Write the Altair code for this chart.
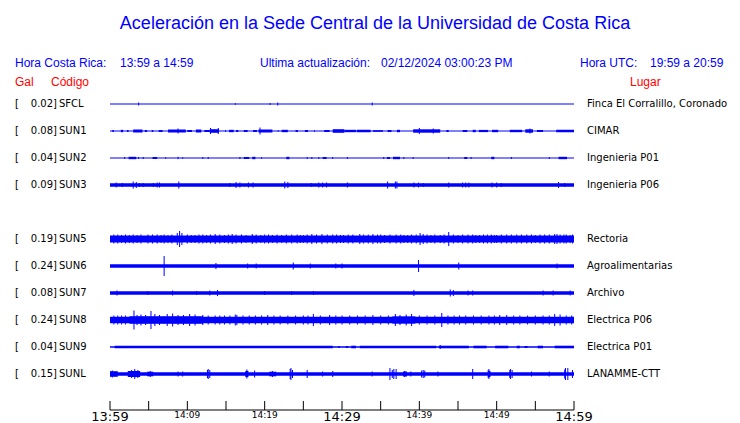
import altair as alt
import pandas as pd

# ---------------- data ----------------
codes = ["SFCL", "SUN1", "SUN2", "SUN3", "SUN5", "SUN6", "SUN7", "SUN8", "SUN9", "SUNL"]
rows = [0, 1, 2, 3, 5, 6, 7, 8, 9, 10]          # trace slot (slot 4 is empty)
gal = [0.02, 0.08, 0.04, 0.09, 0.19, 0.24, 0.08, 0.24, 0.04, 0.15]
places = ["Finca El Corralillo, Coronado", "CIMAR", "Ingenieria P01", "Ingenieria P06",
          "Rectoria", "Agroalimentarias", "Archivo", "Electrica P06", "Electrica P01",
          "LANAMME-CTT"]
# continuous background noise level (half amplitude, trace units) per station
noise = [0, 0, 0, 1.7, 3.5, 1.7, 1.7, 3.2, 0.5, 1.8]

# bursts: (start minute, end minute, half amplitude)
bursts = {
    "SUN1": [(0.3, 0.5, 1.0), (1.4, 1.7, 1.2), (2.2, 2.4, 1.0), (3.0, 4.2, 1.5), (4.5, 4.8, 1.0),
             (5.4, 5.6, 1.0), (6.3, 6.8, 1.0), (7.5, 9.8, 1.5), (10.0, 10.6, 1.0), (11.1, 11.8, 1.5),
             (12.2, 12.9, 1.0), (12.9, 14.1, 1.8), (14.9, 15.0, 1.0), (15.4, 16.0, 1.2), (16.3, 16.6, 1.0),
             (17.3, 17.8, 1.0), (18.5, 19.0, 1.0), (19.2, 21.0, 1.5), (21.7, 21.8, 1.0), (22.2, 23.0, 1.2),
             (24.0, 24.3, 1.0), (25.2, 25.6, 1.0), (26.4, 26.5, 1.0), (27.7, 28.4, 1.0), (28.8, 30.3, 1.8),
             (30.3, 31.8, 1.2), (31.9, 33.7, 1.2), (34.0, 35.3, 0.8), (35.9, 36.4, 1.0), (37.1, 37.5, 1.2),
             (39.2, 42.7, 1.7), (43.5, 43.8, 1.0), (45.6, 46.2, 1.0), (46.9, 47.3, 1.2), (47.7, 48.9, 1.1),
             (49.4, 50.2, 1.2), (51.7, 53.3, 1.2), (53.7, 54.7, 1.7), (55.2, 56.0, 1.0), (57.7, 60, 1.3)],
    "SUN2": [(2.4, 3.4, 1.2), (5.5, 6.1, 1.0), (17.3, 18.0, 1.0), (18.4, 18.8, 1.2), (22.8, 23.2, 1.2),
             (27.5, 28.0, 1.0), (35.8, 36.2, 1.0), (36.6, 37.5, 1.2), (45.8, 46.2, 1.0), (49.3, 49.7, 1.2),
             (58.0, 59.1, 1.2)],
    "SUN8": [(2.5, 12.0, 3.8), (36.5, 39.5, 3.6)],
    "SUN9": [(0.6, 28.8, 1.3), (29.5, 29.7, 1), (30.5, 30.8, 1), (31.2, 31.8, 1.3), (32.3, 42.2, 1.3),
             (42.5, 46.4, 1.3), (47.0, 48.7, 1.3), (49.8, 51.5, 1.3), (52.6, 53.0, 1.3), (53.6, 54.0, 1),
             (55.3, 56.0, 1.3), (57.5, 60, 1.3)],
    "SUNL": [(0, 1, 2.8), (2.3, 3.9, 3.0), (4.8, 5.6, 2.3), (17.5, 17.9, 3.0),
             (20.6, 21.5, 2.3), (37.9, 38.4, 2.5), (48.9, 49.2, 3.0)],
}

# spikes: (minute, half amplitude)
spikes = {
    "SFCL": [(3.7, 1.5), (16.2, 0.8), (20.7, 1.0), (21.7, 1.5), (33.9, 1.5)],
    "SUN1": [(8.8, 2.5), (13.0, 3), (14.0, 3), (19.4, 3.5), (40.0, 3), (41.8, 2.5), (54.3, 2.5)],
    "SUN2": [(1.9, 1), (3.7, 1), (4.3, 1), (7.2, 0.8), (8.8, 1.2), (9.4, 0.8), (12.0, 1), (12.7, 1),
             (16.8, 1), (19.6, 0.8), (25.5, 1), (26.1, 1), (27.0, 1), (28.8, 1), (30.7, 1), (35.4, 1),
             (38.0, 1), (39.2, 1), (43.8, 1), (46.7, 1), (51.9, 1), (56.8, 1)],
    "SUN3": [(0.8, 2.5), (1.6, 2), (3.0, 3.5), (3.4, 3), (3.8, 2), (4.3, 2), (5.6, 2), (6.1, 2.5),
             (6.4, 2.5), (8.9, 3.5), (15.5, 2), (16.3, 3), (16.8, 2.5), (17.9, 2.5), (18.5, 2.5),
             (22.6, 3.5), (23.0, 3), (26.0, 2), (27.0, 2.5), (27.5, 2.5), (28.0, 2.5), (30.7, 2.5),
             (35.9, 3.5), (36.9, 3.5), (37.1, 3.5), (39.3, 2.5), (39.9, 2.5), (40.5, 2), (43.8, 2.5),
             (45.6, 2.5), (46.0, 2.5), (46.4, 2.5), (49.4, 2.5), (50.0, 2.5), (50.6, 2), (58.0, 3),
             (58.8, 2)],
    "SUN5": [(0.5, 4.5), (1.0, 4.5), (1.5, 4), (2.0, 4.5), (2.5, 4), (3.0, 4.5), (3.5, 4), (4.0, 4.5),
             (4.9, 4.5), (5.5, 4.5), (6.1, 4.5), (6.6, 4), (7.0, 4.5), (7.5, 4), (8.0, 4.5), (8.7, 6),
             (9.0, 8), (9.3, 6), (10.0, 4.5), (10.5, 4), (11.0, 4), (11.5, 4.5), (12.0, 4.5), (12.5, 4),
             (13.0, 4.5), (13.6, 5), (14.2, 4.5), (14.8, 4), (15.3, 4.5), (15.8, 5), (16.3, 4.5),
             (17.0, 4.5), (17.6, 4), (18.4, 5), (18.9, 4.5), (19.5, 4), (20.0, 4.5), (20.5, 4.5),
             (21.0, 4), (21.6, 4.5), (22.2, 4), (22.8, 4.5), (23.5, 4.5), (24.2, 4.5), (24.6, 4),
             (25.0, 4), (25.5, 4.5), (26.1, 5), (26.7, 4.5), (27.4, 5), (28.1, 4.5), (28.8, 4.5),
             (29.3, 4.5), (29.8, 4), (30.2, 4), (30.8, 4.5), (31.4, 4.5), (32.3, 5), (32.8, 4.5),
             (33.4, 4.5), (34.0, 5), (34.6, 4.5), (35.0, 4.5), (35.5, 4), (36.2, 4.5), (37.0, 4.5),
             (37.6, 4.5), (38.0, 4), (38.5, 4), (39.0, 4.5), (39.6, 4.5), (40.1, 6), (40.5, 5),
             (41.0, 4.5), (41.5, 4), (42.0, 4.5), (42.7, 4), (43.2, 4.5), (43.8, 7), (44.4, 4.5),
             (45.0, 4), (45.6, 4.5), (46.3, 4.5), (46.9, 4.5), (47.3, 4), (47.8, 4), (48.3, 4.5),
             (48.8, 4.5), (49.3, 4.5), (49.7, 4), (50.0, 4), (50.6, 4.5), (51.3, 4.5), (51.9, 4.5),
             (52.6, 4.5), (53.2, 4.5), (53.9, 4.5), (54.5, 4.5), (55.0, 4), (55.6, 4.5), (56.2, 4.5),
             (56.8, 4.5), (57.5, 5), (57.8, 5), (58.2, 4.5), (58.7, 4.5), (59.0, 4.5), (59.5, 4),
             (59.8, 4.5)],
    "SUN6": [(7.0, 10), (13.7, 3), (17.8, 2.5), (18.9, 2.5), (23.7, 3.5), (25.9, 2.5), (29.2, 2.5),
             (30.0, 2.5), (39.9, 6), (45.1, 3.5), (57.8, 2.5)],
    "SUN7": [(0.9, 2.5), (4.9, 2), (8.1, 2.5), (11.2, 2), (12.9, 2.5), (13.9, 3), (20.0, 2),
             (23.5, 2), (26.3, 2), (39.3, 3), (44.0, 3.5), (44.4, 3), (46.3, 2.5), (46.9, 2.5),
             (56.0, 2.5), (57.3, 2.5), (59.5, 2.5)],
    "SUN8": [(0.5, 4.5), (1.0, 4.5), (1.5, 4.5), (2.0, 4.5), (3.1, 9.5), (3.5, 5), (4.0, 5.5),
             (4.6, 5), (5.3, 9), (5.8, 6), (6.4, 5), (7.4, 6), (8.1, 6.5), (8.8, 5), (9.5, 5),
             (10.3, 6), (11.0, 5.5), (12.0, 5), (12.7, 4.5), (13.6, 4.5), (14.2, 4.5), (14.8, 4.5),
             (15.5, 4.5), (16.2, 5.5), (16.4, 5), (17.2, 4.5), (18.0, 4.5), (18.8, 4.5), (19.6, 4.5),
             (20.4, 5), (21.2, 4.5), (22.0, 4.5), (23.0, 4.5), (24.0, 4.5), (25.0, 4.5), (25.6, 4.5),
             (26.3, 6), (27.2, 4.5), (28.4, 5), (29.2, 4.5), (30.0, 4.5), (31.0, 4.5), (32.0, 4.5),
             (33.0, 4.5), (34.0, 5), (35.0, 4.5), (36.0, 4.5), (36.9, 6), (37.5, 5), (38.3, 5.5),
             (39.0, 6), (40.0, 4.5), (41.0, 4.5), (42.0, 4.5), (42.9, 7), (43.7, 4.5), (44.5, 4.5),
             (45.2, 4.5), (46.0, 4.5), (47.0, 4.5), (48.0, 4.5), (49.0, 4.5), (49.7, 4.5), (50.4, 5),
             (51.3, 5), (52.2, 4.5), (53.0, 4.5), (54.0, 4.5), (55.0, 4.5), (56.0, 4.5), (56.8, 4.5),
             (57.5, 6), (58.2, 5.5), (59.0, 4.5), (59.7, 4.5)],
    "SUN9": [(42.7, 2)],
    "SUNL": [(0.3, 3.5), (2.8, 4), (3.2, 5), (3.6, 4), (5.2, 3), (8.8, 2.5), (9.4, 2.5), (12.6, 4),
             (12.7, 5), (12.9, 4), (17.7, 4.5), (18.7, 3.5), (21.0, 3), (23.3, 5), (23.4, 6),
             (23.6, 4), (25.5, 4), (27.5, 2.5), (28.8, 3), (33.9, 2.5), (36.2, 6), (36.5, 4),
             (36.7, 5), (37.0, 5), (38.1, 3), (38.9, 2.5), (40.3, 3.5), (40.5, 4), (40.7, 3.5),
             (42.4, 2.5), (46.9, 5), (48.9, 4), (49.0, 5), (51.7, 4), (51.8, 5), (52.0, 4),
             (54.5, 2.5), (56.8, 2.5), (58.8, 4.5), (58.9, 6), (59.2, 6), (59.8, 4)],
}

tick_minutes = [0, 5, 10, 15, 20, 25, 30, 35, 40, 45, 50, 55, 60]
label_minutes = [0, 10, 20, 30, 40, 50, 60]
label_texts = ["13:59", "14:09", "14:19", "14:29", "14:39", "14:49", "14:59"]
major_labels = ["13:59", "14:29", "14:59"]

# ---------------- tables ----------------
AMP_UNIT = 27.0   # trace amplitude units between neighbouring trace slots
row_of = dict(zip(codes, rows))

rect_recs = []
for c, r, n in zip(codes, rows, noise):
    if n > 0:
        rect_recs.append(dict(code=c, t0=0, t1=60, lo=r - n / AMP_UNIT, hi=r + n / AMP_UNIT))
for c, lst in bursts.items():
    r = row_of[c]
    for a, b, amp in lst:
        rect_recs.append(dict(code=c, t0=a, t1=b, lo=r - amp / AMP_UNIT, hi=r + amp / AMP_UNIT))
rect_df = pd.DataFrame(rect_recs)

spike_recs = []
for c, lst in spikes.items():
    r = row_of[c]
    for t, amp in lst:
        spike_recs.append(dict(code=c, t=t, lo=r - amp / AMP_UNIT, hi=r + amp / AMP_UNIT))
spike_df = pd.DataFrame(spike_recs)

st_df = pd.DataFrame(dict(code=codes, row=rows, gal=[f"{g:.2f}]" for g in gal],
                          place=places, t0=[0] * len(codes), t1=[60] * len(codes)))
ticks_df = pd.DataFrame(dict(t=tick_minutes))
lab_df = pd.DataFrame(dict(t=label_minutes, lab=label_texts))
lab_big = lab_df[lab_df.lab.isin(major_labels)]
lab_small = lab_df[~lab_df.lab.isin(major_labels)]
axis_df = pd.DataFrame(dict(t0=[0], t1=[60]))

BLUE = "#0000ff"
RED = "#ff0000"
X = alt.Scale(domain=[0, 60], nice=False, zero=False)
Y = alt.Scale(domain=[0, 10], range=[95, 365], nice=False, zero=False)

base_line = alt.Chart(st_df).mark_rule(color=BLUE, strokeWidth=1).encode(
    x=alt.X("t0:Q", scale=X, axis=None), x2="t1:Q",
    y=alt.Y("row:Q", scale=Y, axis=None))

rects = alt.Chart(rect_df).mark_rect(color=BLUE).encode(
    x=alt.X("t0:Q", scale=X, axis=None), x2="t1:Q",
    y=alt.Y("lo:Q", scale=Y, axis=None), y2="hi:Q")

spk = alt.Chart(spike_df).mark_rule(color=BLUE, strokeWidth=1).encode(
    x=alt.X("t:Q", scale=X, axis=None),
    y=alt.Y("lo:Q", scale=Y, axis=None), y2="hi:Q")

LBL = dict(font="DejaVu Sans", fontSize=10, color="black", baseline="middle")
bracket = alt.Chart(st_df).mark_text(align="left", text="[", **LBL).encode(
    x=alt.value(-95), y=alt.Y("row:Q", scale=Y, axis=None))
galtxt = alt.Chart(st_df).mark_text(align="right", **LBL).encode(
    x=alt.value(-53), y=alt.Y("row:Q", scale=Y, axis=None), text="gal:N")
codetxt = alt.Chart(st_df).mark_text(align="left", **LBL).encode(
    x=alt.value(-51), y=alt.Y("row:Q", scale=Y, axis=None), text="code:N")
placetxt = alt.Chart(st_df).mark_text(align="left", **LBL).encode(
    x=alt.value(477), y=alt.Y("row:Q", scale=Y, axis=None), text="place:N")

axis_line = alt.Chart(axis_df).mark_rule(color="black", strokeWidth=1).encode(
    x=alt.X("t0:Q", scale=X, axis=None), x2="t1:Q", y=alt.value(401))
tick_rules = alt.Chart(ticks_df).mark_rule(color="black", strokeWidth=1).encode(
    x=alt.X("t:Q", scale=X, axis=None), y=alt.value(392), y2=alt.value(401))
big_lab = alt.Chart(lab_big).mark_text(font="DejaVu Sans", fontSize=13, color="black",
                                       baseline="middle", align="center").encode(
    x=alt.X("t:Q", scale=X, axis=None), y=alt.value(408), text="lab:N")
small_lab = alt.Chart(lab_small).mark_text(font="DejaVu Sans", fontSize=9, color="black",
                                           baseline="middle", align="center").encode(
    x=alt.X("t:Q", scale=X, axis=None), y=alt.value(406), text="lab:N")

one = pd.DataFrame(dict(k=[0]))


def label(txt, x, y, size=12, color=BLUE, align="left"):
    return alt.Chart(one).mark_text(text=txt, font="Liberation Sans", fontSize=size,
                                    color=color, align=align, baseline="middle").encode(
        x=alt.value(x), y=alt.value(y))


headers = [
    label("Aceleración en la Sede Central de la Universidad de Costa Rica", 265, 15, 18,
          align="center"),
    label("Hora Costa Rica:", -95, 54),
    label("13:59 a 14:59", 10, 54),
    label("Ultima actualización:", 150, 54),
    label("02/12/2024 03:00:23 PM", 271, 54),
    label("Hora UTC:", 470, 54),
    label("19:59 a 20:59", 540, 54),
    label("Gal", -95, 73, color=RED),
    label("Código", -59, 73, color=RED),
    label("Lugar", 520, 73, color=RED),
]

chart = alt.layer(
    rects, base_line, spk, bracket, galtxt, codetxt, placetxt,
    axis_line, tick_rules, big_lab, small_lab, *headers
).properties(
    width=464, height=401,
    autosize=alt.AutoSizeParams(type="none"),
    padding={"left": 102, "top": 1, "right": 158, "bottom": 14},
    background="white",
).configure_view(strokeWidth=0)

chart.save("out.html", embed_options={"renderer": "svg", "actions": False})
